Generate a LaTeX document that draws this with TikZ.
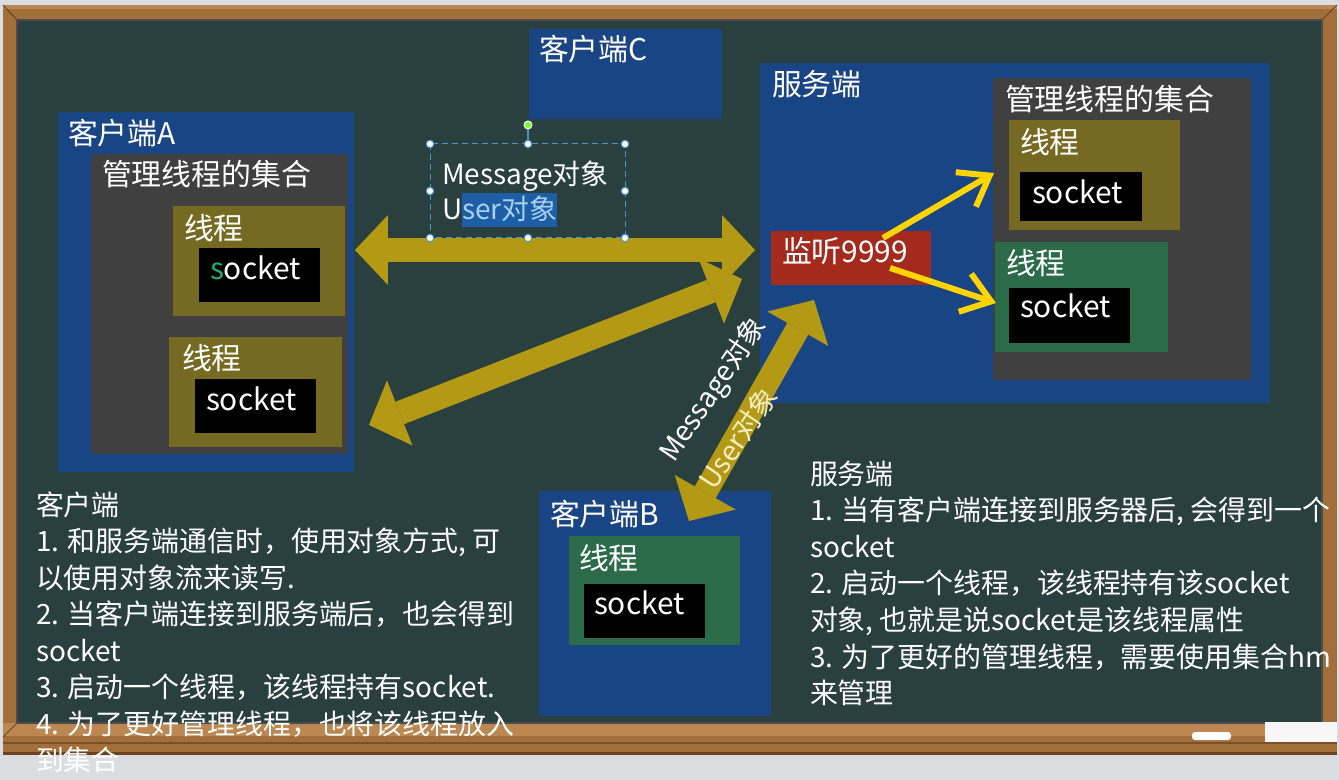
\documentclass[tikz,border=0pt]{standalone}
\usepackage{fontspec}
\setmainfont{Noto Sans CJK SC}
\usetikzlibrary{arrows.meta,fit}

\definecolor{page}{HTML}{DCDDE1}
\definecolor{board}{HTML}{29403F}
\definecolor{wood}{HTML}{A26E3A}
\definecolor{woodlight}{HTML}{BC8750}
\definecolor{wooddark}{HTML}{6A4322}
\definecolor{boxblue}{HTML}{1A4585}
\definecolor{boxgrey}{HTML}{404040}
\definecolor{olive}{HTML}{766A22}
\definecolor{thrgreen}{HTML}{2B6B4A}
\definecolor{listenred}{HTML}{A42A1D}
\definecolor{gold}{HTML}{B49A14}
\definecolor{brightyellow}{HTML}{FFD400}
\definecolor{selblue}{HTML}{4A94CC}
\definecolor{hilite}{HTML}{1D5EA6}
\definecolor{hilitetext}{HTML}{A8D0F0}
\definecolor{cream}{HTML}{F3EDC2}
\definecolor{sgreen}{HTML}{22A77C}

% a filled panel covering two corners given in pixels
\newcommand{\panel}[6]{\node[#2, fit={(#3,#4) (#5,#6)}, inner sep=0pt] (#1) {};}

\tikzset{
  every node/.style={inner sep=0pt, outer sep=0pt},
  f30/.style={font=\fontsize{17pt}{20pt}\selectfont},
  f28/.style={font=\fontsize{15.9pt}{19pt}\selectfont},
  f27/.style={font=\fontsize{15.3pt}{18pt}\selectfont},
  title/.style={f30, text=white, anchor=base west},
  note/.style={text=white, anchor=base west},
  bluebox/.style={fill=boxblue},
  greybox/.style={fill=boxgrey},
  olivebox/.style={fill=olive},
  greenbox/.style={fill=thrgreen},
  sockbox/.style={fill=black},
  redbox/.style={fill=listenred},
  fatarrow/.style={draw=gold, line width=0.48cm,
    {Triangle[length=0.66cm,width=1.4cm,line width=0pt]}-{Triangle[length=0.66cm,width=1.4cm,line width=0pt]}},
  thinarrow/.style={draw=brightyellow, line width=0.12cm,
    -{Straight Barb[length=0.55cm,width=0.8cm]}},
  handle/.style={circle, fill=white, draw=selblue, line width=0.02cm, minimum size=0.15cm},
}

\begin{document}
\begin{tikzpicture}[x=0.02cm, y=-0.02cm]
\useasboundingbox (0,0) rectangle (1339,780);

% ---- chalkboard and wooden frame ----
\fill[page] (0,0) rectangle (1339,780);
\fill[wood] (3,5) rectangle (1337,755);
\fill[woodlight] (3,5) rectangle (1337,9);
\fill[woodlight] (3,723) rectangle (1337,736);
\fill[wooddark!70!wood] (3,742) rectangle (1337,744);
\fill[wooddark] (3,752) rectangle (1337,755);
\draw[wooddark, line width=0.02cm] (3,5) -- (17,20) (1337,5) -- (1322,20)
  (17,723) -- (3,737) (1322,723) -- (1337,737);
\fill[board] (17,20) rectangle (1322,723);
\draw[black!70, line width=0.04cm] (17,20) rectangle (1322,723);
\fill[white, rounded corners=0.06cm] (1192,732) rectangle (1231,740);
\fill[white!94!gray] (1265,722) rectangle (1337,742);

% ---- client A ----
\panel{cliA}{bluebox}{58}{112}{354}{472}
\panel{setA}{greybox}{91}{154}{348}{454}
\panel{thrA1}{olivebox}{173}{206}{345}{316}
\panel{sockA1}{sockbox}{199}{248}{320}{302}
\panel{thrA2}{olivebox}{169}{337}{342}{447}
\panel{sockA2}{sockbox}{195}{379}{316}{433}
\node[title] (cliA-t) at (68,145) {客户端A};
\node[title] (setA-t) at (102,186) {管理线程的集合};
\node[title] (thrA1-t) at (184,240) {线程};
\node[title] (thrA2-t) at (182,370) {线程};
\node[title] (sockA1-t) at (210,280) {{\color{sgreen}s}ocket};
\node[title] (sockA2-t) at (206,411) {socket};

% ---- client C ----
\panel{cliC}{bluebox}{529}{29}{722}{119}
\node[title] (cliC-t) at (539,61) {客户端C};

% ---- server ----
\panel{srv}{bluebox}{760}{63}{1270}{403}
\panel{setS}{greybox}{993}{78}{1251}{380}
\panel{thrS1}{olivebox}{1009}{120}{1180}{230}
\panel{sockS1}{sockbox}{1020}{172}{1142}{221}
\panel{thrS2}{greenbox}{995}{242}{1168}{352}
\panel{sockS2}{sockbox}{1009}{288}{1130}{343}
\panel{listen}{redbox}{771}{231}{931}{285}
\node[title] (srv-t) at (772,96) {服务端};
\node[title] (setS-t) at (1005,111) {管理线程的集合};
\node[title] (thrS1-t) at (1020,154) {线程};
\node[title] (thrS2-t) at (1006,275) {线程};
\node[title] (sockS1-t) at (1032,204) {socket};
\node[title] (sockS2-t) at (1020,318) {socket};
\node[title] (listen-t) at (782,263) {监听9999};

% ---- client B ----
\panel{cliB}{bluebox}{539}{491}{771}{716}
\panel{thrB}{greenbox}{569}{536}{740}{645}
\panel{sockB}{sockbox}{584}{584}{705}{638}
\node[title] (cliB-t) at (550,525) {客户端B};
\node[title] (thrB-t) at (579,569) {线程};
\node[title] (sockB-t) at (594,614) {socket};

% ---- connectors ----
\coordinate (a1s) at (355,250);  \coordinate (a1e) at (755,250);
\coordinate (a2s) at (369,425);  \coordinate (a2e) at (742,279);
\coordinate (a3s) at (689,521);  \coordinate (a3e) at (814,300);
\draw[fatarrow] (a1s) -- (a1e);
\draw[fatarrow] (a2s) -- (a2e);
\draw[fatarrow] (a3s) -- (a3e);

\coordinate (y1s) at (883,238);  \coordinate (y1e) at (994,173);
\coordinate (y2s) at (890,268);  \coordinate (y2e) at (996,303);
\draw[thinarrow] (y1s) -- (y1e);
\draw[thinarrow] (y2s) -- (y2e);

% ---- message labels ----
\fill[hilite] (462,193) rectangle (557,227);
\node[f28, text=white, anchor=base west] (msg1) at (442,185) {Message对象};
\node[f28, text=white, anchor=base west] (msg2) at (442,220) {U\textcolor{hilitetext}{ser对象}};
\node[f28, text=white, rotate=56] (msg3) at (714,390) {Message对象};
\node[f28, text=cream, rotate=56] (msg4) at (738,438) {User对象};

% selection frame around the message label
\draw[selblue, line width=0.02cm, dash pattern=on 0.12cm off 0.08cm] (430,144) rectangle (625,238);
\draw[selblue, line width=0.03cm] (528,144) -- (528,125);
\fill[green!55!lime!80!white, draw=white, line width=0.02cm] (528,125) circle (0.08cm);
\foreach \hx/\hy [count=\k] in {430/144, 528/144, 625/144, 430/191, 625/191, 430/238, 528/238, 625/238}
  \node[handle] (h\k) at (\hx,\hy) {};

% ---- notes ----
\foreach \ln [count=\i from 0] in {客户端, {1. 和服务端通信时，使用对象方式, 可}, 以使用对象流来读写., {2. 当客户端连接到服务端后，也会得到}, socket, {3. 启动一个线程，该线程持有socket.}, {4. 为了更好管理线程，也将该线程放入}, 到集合}
  \node[note, f28] (cnote\i) at (36,{515+36.5*\i}) {\ln};

\foreach \ln [count=\i from 0] in {服务端, {1. 当有客户端连接到服务器后, 会得到一个}, socket, {2. 启动一个线程，该线程持有该socket}, {对象, 也就是说socket是该线程属性}, {3. 为了更好的管理线程，需要使用集合hm}, 来管理}
  \node[note, f28] (snote\i) at (810,{484+36.6*\i}) {\ln};

\end{tikzpicture}
\end{document}
